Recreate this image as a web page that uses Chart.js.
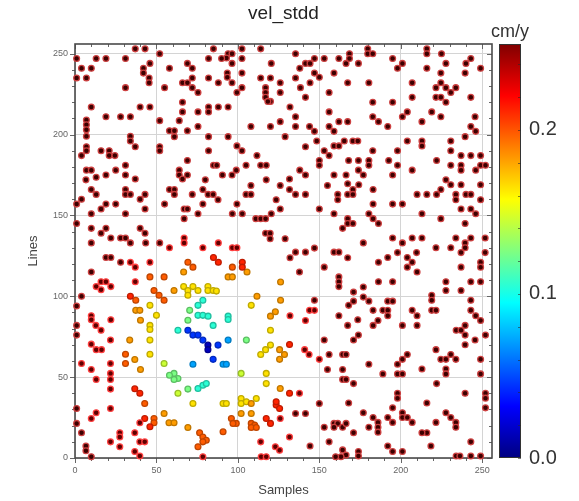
<!DOCTYPE html>
<html><head><meta charset="utf-8">
<script src="https://cdn.jsdelivr.net/npm/chart.js@4"></script>
<style>html,body{margin:0;padding:0;background:#fff}#wrap{width:579px;height:501px;position:relative}</style>
</head><body><div id="wrap"><canvas id="c" width="579" height="501"></canvas></div>
<script>
// ---- data (x = sample, y = line), grouped by colour class ----
const VMIN = 0.0, VMAX = 0.2524;
const axisTicks = [0, 50, 100, 150, 200, 250];
const cbarTicks = [0.0, 0.1, 0.2];

const darkPts = [ // ~0.248 cm/y
[37,253],[43,253],[52,250],[1,247],[13,247],[19,247],[31,247],[46,244],[4,241],[10,241],[42,241],[42,238],[45.5,235],[45.5,232],[1,235],[7,235],[31,229],[10,217],[40,217],[46,217],[19,211],[28,211],[34,211],[7,209],[7,206],[7,203],[7,199],[34,199],[34,196],[37,192.5],[7,192.5],[7,190],[4,187],[16,190],[21,190],[21,187],[24.5,187],[31,181],[7,178],[10,178],[25,178],[13,173.6],[19,175],[31,175],[37,172.5],[58,241],[69,244],[72,241],[66,232],[69,232],[72,235],[72,229],[75.5,226],[55,229],[66,220],[66,214],[75.5,214],[52,208.6],[64,208.6],[75.5,205],[58,202.4],[61,202.4],[61,198.7],[69,202.4],[52,192.5],[52,190],[69,184],[64,178],[64,175],[66,172.5],[69,175],
[85,253],[102.5,253],[114,253],[94,250],[96.4,250],[93,247.3],[96.4,244],[82,247],[90,247],[102.5,247],[135.4,250],[120.5,244],[147,247],[153,247],[162,247],[166.4,244],[138,241],[141.5,244],[144.3,244],[147,238],[150,235.4],[159,238],[93.5,238],[93.5,235.4],[102.5,238],[82,235],[88,232],[96.4,232],[114,235],[120,235],[126,232],[135.4,235],[144.3,232],[167.4,232],[102.5,229],[99.4,226],[117,229],[117,226],[117,223],[120,220.5],[118.4,220.5],[126,226],[138.4,229],[141.5,223],[156,226],[82,217],[82,214],[88,217],[94,217],[132,217],[156,214],[135.4,211],[126,208],[162,208],[167.4,208],[108,205],[120,205],[135.4,205],[144,205],[147,202],[156,205],[159,202],[82,198.7],[94,198.7],[129,198.7],[148.4,196],[165.3,196],[141.5,192.5],[159,193],[162,193],[99.4,193],[102.5,190],[82,190],[153,190],[111.7,187],[156,187],[150,184],[150,181],[85,181],[87,181],[105,181],[114,181],[117.4,181],[99,178],[138,178],[90.5,175],[96.4,175],[141.5,175],[159,175],[166.4,175],[117.4,172],[131.7,172.5],[80,172],
[179.7,253],[179.7,250],[182.8,250],[216,253],[216,250],[168.5,250],[168.5,247],[174,244],[195,247],[201,244],[198,241],[225,250],[227.7,244],[216,241],[243,247],[240,244],[239.5,238],[249,241],[224.6,238],[180.4,232],[207,232],[224.6,232],[221.6,229],[227.7,229],[230.7,226],[233.8,229],[221.6,223],[224.6,223],[227.7,220],[243,223],[207,223],[182.8,220],[195,220],[204,214],[201,211],[219,214],[224.6,211],[182.8,211],[186.3,208],[192,205],[213,208],[245.6,211],[243,205],[246,202],[239.5,198.7],[170.6,196],[173.6,196],[204,196],[213,196],[213,193],[230.7,196],[182.8,190],[198,190],[230.7,190],[237,187],[243,187],[249,187],[168,184],[174,184],[180.4,184],[180.4,181],[192.6,184],[198,181],[222,184],[230.7,181],[237,181],[237,178],[249,181],[252,181],[246,178],[174,178],[177,175],[195,175],[207,178],[227.7,172],
[6.7,172],[10,166],[13,163],[1,157],[4,160],[16,154],[19,157],[25,157],[31,166],[31,163],[34,163],[40,160],[43,163],[43,154],[55,157],[58,166],[61,166],[61,163],[67,154],[69,154],[67,148],[75.5,151],[72,163],[78.5,166],[78.5,157],[1,145],[10,151],[10,142],[16,139],[19,142],[22,136],[31,151],[28,136],[31,136],[34,133],[40,142],[43,139],[43.4,133],[10,133],[52,133],[19,124],[22,124],[28,121],[10,115],[4,100],[1,94],
[167.4,169.6],[108,168.5],[126,168.5],[131.7,166],[155,168.5],[81.7,163],[84.8,163],[87.8,159.7],[105,163],[108,163],[123.5,159.7],[135.4,163],[141.5,163],[161.3,163],[161.3,159.7],[167.4,163],[99.4,157],[96.6,151],[102.7,151],[126,154],[120.5,151],[111,148],[114,148],[117,148],[150,154],[159,151],[167.4,148],[167.4,145],[164.3,142],[117,139],[119.8,139],[119.8,135.6],[129,135.6],[147,129.8],[135.4,127.3],[141.5,127.3],[132,123.8],[159,127.3],[162,127.3],[167.4,123.8],[137.8,115],[153,118],[162,112],[162,109],[162,106],[147,97.5],[168,94.4],
[174.2,169],[170.6,166],[170.6,163],[183,166],[183,157],[195,157],[201,157],[210,163],[216,163],[222,163],[224.6,166],[230.7,169],[237,169],[233.8,163],[233.8,159.7],[240,163],[243,163],[249,169],[249,159.7],[237,154],[243,154],[246,151],[213,151],[224.6,148],[239.5,145],[180.4,151],[183,148],[186.3,145],[170.6,145],[177,133],[195,136],[201,133],[207,136],[213,136],[233.8,136],[243,136],[251.8,136],[239.5,133],[239.5,130],[221.6,130],[230.7,130],[198,127],[209.7,127],[237,127],[251.8,127],[192,124],[204,124],[207,121],[204,118],[210,115],[186.3,121],[237,118],[249,121],[249,118],[186.3,109],[195,109],[227.7,109],[243,109],[249,109],[171,102.6],[177,105.7],[177,99.5],[180.4,97],[171,97],[192,97],[195,97],[189,91.3],[192,91.3],[192,88],[183,91.3],[173.6,85.5],[207,91.3],[210,88],[219,100.6],[219,97.5],[219,91.3],[221.6,91.3],[227.7,103.6],[237,103.6],[243,97.5],[243,91.3],[246,88],
[183,82],[186,85],[201,82],[210,82],[234,79],[237,79],[239.5,82],[239.5,76],[249,85],[252,76],[174,76],[171,73],[245.6,73],[239.5,70],[221.6,67],[180.4,58],[198,58],[201,61],[204,64],[189,52],[198,52],[201,52],[213,55],[224.6,61],[227.7,61],[230.7,64],[233.8,61],[227.7,55],[227.7,52],[249,61],[249,52],[171,46],[222,46],[198,40],[198,37],[239.5,40],[252,40],[252,37],[252,31],[168,34],[216,34],[177,28],[183,25],[186,22],[186,19],[186,16],[180.4,19],[192,25],[195,31],[195,22],[201,28],[201,25],[204,25],[207,22],[216,15.6],[213,15.6],[221.6,22],[227.7,28],[230.7,25],[233.8,22],[233.8,19],[171,15.6],[192,7.4],[195,4],[201,4],[218.5,7.4],[243,10],[174,4],[174,1.2],[234,1.2],[236.3,1.2],[243,1.2],[249,1.2],
[162,88],[167.4,82],[153,73],[156,64],[155,54.7],[164.3,64],[166.4,64],[164.3,54.7],[164.3,48.6],[166.4,48.6],[150,33.7],[135.4,27.5],[141.5,27.5],[153,19],[159,21.4],[161.3,21.4],[159,19],[164.3,19],[166.4,21.4],[144.3,7.4],[156,10],[164.3,5],[166.4,1.8],[163.3,0.8],[160,0.8],
[1,82],[1,76],[1,30.6],[1,21.4],[4,15.6],[6.7,7.4],[6.7,4.5],[10,0.8]
];
const redPts = [ // ~0.228
[58,130],[67,136],[67,133],[78.5,130],[34,121],[37,118],[46,121],[16,109],[19,109],[13,106],[16,104],[22,106],[37,109],[10,88],[10,85.5],[22,85.5],
[88,133],[96.6,130],[99.4,130],[144,91.3],[147,91.3],
[12.8,82],[16,79],[10,70.4],[13,67],[16.3,67],[21.8,73],[4,58.4],[10,54.7],[13,48.6],[21.8,58.4],[21.8,52.3],[21.8,48.6],[21.8,42.6],[21.8,30.6],[10,24.4],[13,28],[21.8,10],[27.5,15.6],[27.5,13],[27.5,7],[36.7,15.6],[39.8,21.8],[39.8,10],[36.7,4],[39.8,1.2],[42.8,10],[78.5,0.8],
[132,88],[141.5,85],[141,67],[143.7,64],[150,61],[137.8,40],[126,24.4],[131.7,13],[114,10],[123,7],[125.6,4.8],[114.3,0.8],[117.4,0.8]
];
const orRedPts = [ // ~0.212
[34,100],[46,19.3],[42.8,24.4],[131.7,70.2],[131.7,40],[117.4,24.4],[120,21.4],[123.5,32.7],[125.6,30.6],[123.5,34.8],[85,124],[88,121],[102.7,121],[102.7,118],[36.7,42.8],[39.8,40]
];
const orangePts = [ // ~0.198
[69.3,121],[72.4,118],[46,112],[54.7,112],[48.5,103.6],[51.6,100.6],[54.7,97.5],[37.3,97.5],[31,64.2],[31,58.4],[42.8,33.7],[48.5,24.4],[48.5,21.8],[96.6,118],[76.5,15.6],[78.5,13],[80.6,11],[75.5,7],[78.5,10],[96,24.4],[99,21.4],[97,21.4],[108.2,21.4],[110.3,20.3],[108.2,18.9],[111.3,18.9],[90.9,16.2]
];
const yelOrPts = [ // ~0.182
[66.7,115],[60.8,103.6],[37.3,91.3],[39.8,91.3],[40.2,85.2],[36.7,60.9],[40.2,54.7],[33.6,72.9],[54.7,27.5],[57.7,21.8],[60.8,21.8],[69.3,18.9],[105.6,115],[94,112],[96.6,112],[111.7,100],[120,87.7],[123,90.4],[125.6,67],[128.6,64],[125.6,61],[126.2,97.5],[126.2,108.8],[126,43],[102,27.5],[108.2,27.5],[108.2,33.7]
];
const yellowPts = [ // ~0.165
[66.7,106],[69.3,103.6],[69.3,100.6],[72.4,106],[75.5,103.6],[81.6,106],[81.6,103.6],[84.8,103.6],[86.8,103.2],[46,94.4],[50,88.2],[46,82],[46,79.5],[46,72.9],[46,64.2],[72.4,33.7],[90.9,33.7],[92.9,33.7],[102,36.8],[102,33.7],[105.2,34.8],[111.3,36.8],[108.2,94.4],[120,79],[114,64],[117,67],[120,69.8],[117.4,52.3],[117.4,46]
];
const yelGrnPts = [[54.7,58.4],[102,52.3],[63.2,40]]; // ~0.145
const greenPts = [[60.8,52.3],[63.2,49.2],[60.8,48.6],[58,51.2],[70.4,91.3],[69.3,85.2],[105.2,72.9],[69.3,42.6]]; // ~0.125
const cyanPts = [[75.5,94.4],[78.5,97.5],[75.5,88.2],[78.5,88.2],[63.2,79],[81.7,87.7],[84.8,82],[94,87.7],[94,85.6],[75.5,43],[78.5,45],[80.6,46]]; // ~0.105
const ltBluePts = [[72.4,58],[94,72.9],[90.9,58],[92.9,58]]; // ~0.072
const bluePts = [[69.3,79],[72.4,76],[75.5,76],[78.5,72.9],[87.8,69.8],[84.8,61]]; // ~0.045
const dkBluePts = [[81.6,69.8],[81.6,67]]; // ~0.015

const classPoints = [darkPts, redPts, orRedPts, orangePts, yelOrPts, yellowPts, yelGrnPts, greenPts, cyanPts, ltBluePts, bluePts, dkBluePts];
const classValues = [0.248, 0.228, 0.212, 0.198, 0.182, 0.165, 0.145, 0.125, 0.105, 0.072, 0.045, 0.015];

function jet(v){
  const t = Math.min(1, Math.max(0, (v - VMIN) / (VMAX - VMIN)));
  const c = x => Math.round(255 * Math.min(1, Math.max(0, 1.5 - Math.abs(x))));
  return [c(4*t-3), c(4*t-2), c(4*t-1)];
}
const rgb = (a, k=1) => `rgb(${Math.round(a[0]*k)},${Math.round(a[1]*k)},${Math.round(a[2]*k)})`;
const mixW = (a, w) => `rgb(${Math.round(a[0]+(255-a[0])*w)},${Math.round(a[1]+(255-a[1])*w)},${Math.round(a[2]+(255-a[2])*w)})`;

const datasets = classPoints.map((pts, i) => {
  const col = jet(classValues[i]);
  const reddish = classValues[i] >= 0.22;
  return {
    data: pts.map(p => ({x: p[0], y: p[1]})),
    backgroundColor: reddish ? rgb(col, 0.42) : rgb(col),
    borderColor: reddish ? mixW([Math.min(255, col[0] * 1.35), 30, 30], 0.15) : rgb(col, 0.75),
    borderWidth: 1.3,
    pointRadius: 2.9,
    pointHoverRadius: 2.9,
    clip: false
  };
});

const FONT = "'Liberation Sans', Arial, Helvetica, sans-serif";

const deco = {
  id: 'deco',
  beforeDatasetsDraw(chart){
    const {ctx, chartArea: a, scales: {x, y}} = chart;
    ctx.save();
    ctx.strokeStyle = '#666'; ctx.lineWidth = 1;
    for (let v = 0; v <= 256; v += 10) {
      const px = Math.round(x.getPixelForValue(v)) + 0.5;
      const py = Math.round(y.getPixelForValue(v)) + 0.5;
      const L = (v % 50 === 0) ? 5 : 3;
      ctx.beginPath();
      ctx.moveTo(px, a.bottom); ctx.lineTo(px, a.bottom + L);
      ctx.moveTo(px, a.top); ctx.lineTo(px, a.top + L);
      ctx.moveTo(a.left, py); ctx.lineTo(a.left - L, py);
      ctx.moveTo(a.right, py); ctx.lineTo(a.right - L, py);
      ctx.stroke();
    }
    ctx.strokeStyle = '#4a4a4a'; ctx.lineWidth = 1.6;
    ctx.strokeRect(a.left, a.top, a.right - a.left, a.bottom - a.top);
    ctx.restore();
  },
  afterDraw(chart){
    const {ctx, chartArea: a} = chart;
    ctx.save();
    ctx.fillStyle = '#222'; ctx.textAlign = 'center'; ctx.textBaseline = 'middle';
    ctx.font = `19px ${FONT}`;
    ctx.fillText('vel_stdd', (a.left + a.right) / 2, 14);
    ctx.fillStyle = '#444'; ctx.font = `13px ${FONT}`;
    ctx.fillText('Samples', (a.left + a.right) / 2, 490);
    ctx.save(); ctx.translate(33, (a.top + a.bottom) / 2); ctx.rotate(-Math.PI / 2);
    ctx.fillText('Lines', 0, 0); ctx.restore();
    const bx = 499, bw = 22, top = a.top, bot = a.bottom;
    const g = ctx.createLinearGradient(0, bot, 0, top);
    for (let i = 0; i <= 40; i++) g.addColorStop(i / 40, rgb(jet(VMIN + (VMAX - VMIN) * i / 40)));
    ctx.fillStyle = g; ctx.fillRect(bx, top, bw, bot - top);
    ctx.strokeStyle = '#333'; ctx.lineWidth = 1; ctx.strokeRect(bx + 0.5, top + 0.5, bw - 1, bot - top - 1);
    ctx.strokeStyle = 'rgba(40,40,40,0.6)';
    for (let v = 0; v <= VMAX; v += 0.02) {
      const py = Math.round(bot - (v - VMIN) / (VMAX - VMIN) * (bot - top)) + 0.5;
      ctx.beginPath(); ctx.moveTo(bx + bw - 3, py); ctx.lineTo(bx + bw, py); ctx.stroke();
    }
    ctx.fillStyle = '#333'; ctx.font = `20px ${FONT}`; ctx.textAlign = 'left';
    cbarTicks.forEach(v => {
      const py = bot - (v - VMIN) / (VMAX - VMIN) * (bot - top);
      ctx.fillText(v.toFixed(1), 529, py);
    });
    ctx.textAlign = 'center'; ctx.font = `18px ${FONT}`;
    ctx.fillText('cm/y', 510, 32);
    ctx.restore();
  }
};

const setTicks = s => { s.ticks = axisTicks.map(v => ({value: v})); };

new Chart(document.getElementById('c'), {
  type: 'scatter',
  data: {datasets},
  options: {
    responsive: false, animation: false, devicePixelRatio: 1,
    layout: {padding: {top: 44, right: 87, left: 0, bottom: 0}},
    plugins: {legend: {display: false}, tooltip: {enabled: false}, title: {display: false}},
    scales: {
      x: {
        type: 'linear', min: 0, max: 256,
        afterBuildTicks: setTicks,
        afterFit: s => { s.height = 43; },
        grid: {color: '#d4d4d4', lineWidth: 1, drawTicks: false},
        border: {display: false},
        ticks: {font: {size: 9, family: FONT}, color: '#666', padding: 7, maxRotation: 0}
      },
      y: {
        type: 'linear', min: 0, max: 256,
        afterBuildTicks: setTicks,
        afterFit: s => { s.width = 75; },
        grid: {color: '#d4d4d4', lineWidth: 1, drawTicks: false},
        border: {display: false},
        ticks: {font: {size: 9, family: FONT}, color: '#666', padding: 7}
      }
    }
  },
  plugins: [deco]
});
</script>
</body></html>
